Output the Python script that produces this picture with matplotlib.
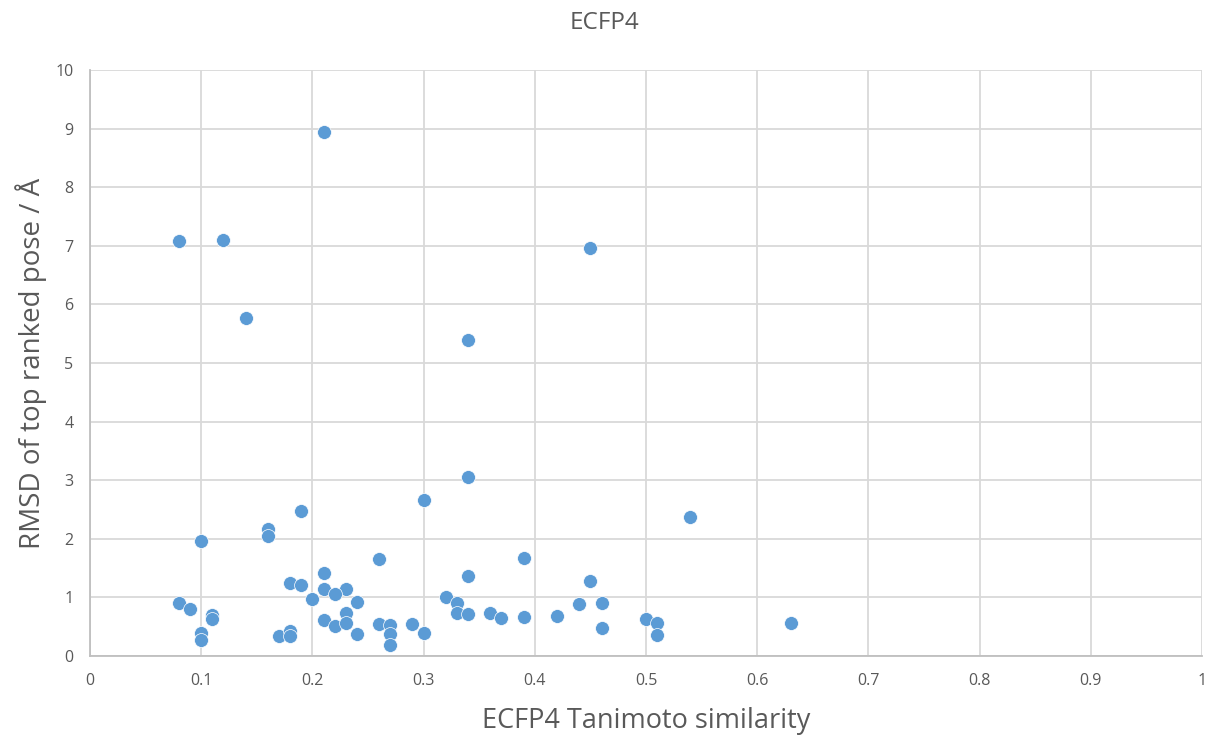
import matplotlib
matplotlib.use("Agg")
import matplotlib.pyplot as plt

similarity = [0.08, 0.12, 0.21, 0.14, 0.45, 0.34, 0.34, 0.30, 0.54, 0.19,
              0.16, 0.16, 0.10, 0.26, 0.39, 0.21, 0.34, 0.45, 0.18, 0.19,
              0.21, 0.23, 0.22, 0.20, 0.24, 0.32, 0.33, 0.44, 0.46, 0.08,
              0.09, 0.11, 0.11, 0.23, 0.33, 0.34, 0.36, 0.37, 0.39, 0.42,
              0.50, 0.51, 0.63, 0.21, 0.22, 0.23, 0.26, 0.27, 0.29, 0.27,
              0.27, 0.30, 0.24, 0.17, 0.18, 0.18, 0.10, 0.10, 0.46, 0.51]
rmsd = [7.08, 7.10, 8.95, 5.76, 6.97, 5.40, 3.05, 2.66, 2.37, 2.48,
        2.16, 2.05, 1.97, 1.65, 1.68, 1.42, 1.37, 1.28, 1.24, 1.22,
        1.14, 1.14, 1.05, 0.97, 0.92, 1.01, 0.90, 0.88, 0.90, 0.90,
        0.81, 0.70, 0.63, 0.74, 0.73, 0.72, 0.74, 0.64, 0.66, 0.69,
        0.63, 0.56, 0.56, 0.61, 0.51, 0.57, 0.55, 0.53, 0.55, 0.37,
        0.18, 0.40, 0.37, 0.34, 0.43, 0.34, 0.40, 0.28, 0.47, 0.35]

x_ticks = [0, 0.1, 0.2, 0.3, 0.4, 0.5, 0.6, 0.7, 0.8, 0.9, 1]
x_tick_labels = ["0", "0.1", "0.2", "0.3", "0.4", "0.5", "0.6", "0.7", "0.8", "0.9", "1"]
y_ticks = list(range(0, 11))

plt.rcParams['font.family'] = ['Open Sans', 'DejaVu Sans']
text_col = "#595959"
grid_col = "#D9D9D9"

fig = plt.figure(figsize=(12.16, 7.37), dpi=100)
ax = fig.add_axes([90/1216, 1-656/737, (1202-90)/1216, (656-70)/737])

ax.scatter(similarity, rmsd, s=100, color="#5B9BD5", edgecolors="white",
           linewidths=0.5, zorder=3)

ax.set_xlim(0, 1)
ax.set_ylim(0, 10)
ax.set_xticks(x_ticks)
ax.set_xticklabels(x_tick_labels)
ax.set_yticks(y_ticks)
ax.grid(True, color=grid_col, linewidth=1.3, zorder=0)
ax.set_axisbelow(True)
for side in ["top", "right"]:
    ax.spines[side].set_visible(False)
for side in ["left", "bottom"]:
    ax.spines[side].set_color("#BFBFBF")
    ax.spines[side].set_linewidth(1.3)
ax.tick_params(axis='both', length=0, colors=text_col, labelsize=11.5, pad=12)

ax.set_xlabel("ECFP4 Tanimoto similarity", fontsize=19.5, color=text_col, labelpad=13)
ax.set_ylabel("RMSD of top ranked pose / Å", fontsize=20, color=text_col, labelpad=6)
fig.text(605/1216, 1-23/737, "ECFP4", ha="center", va="center", fontsize=17.5, color=text_col)

fig.savefig("out.png", dpi=100)
